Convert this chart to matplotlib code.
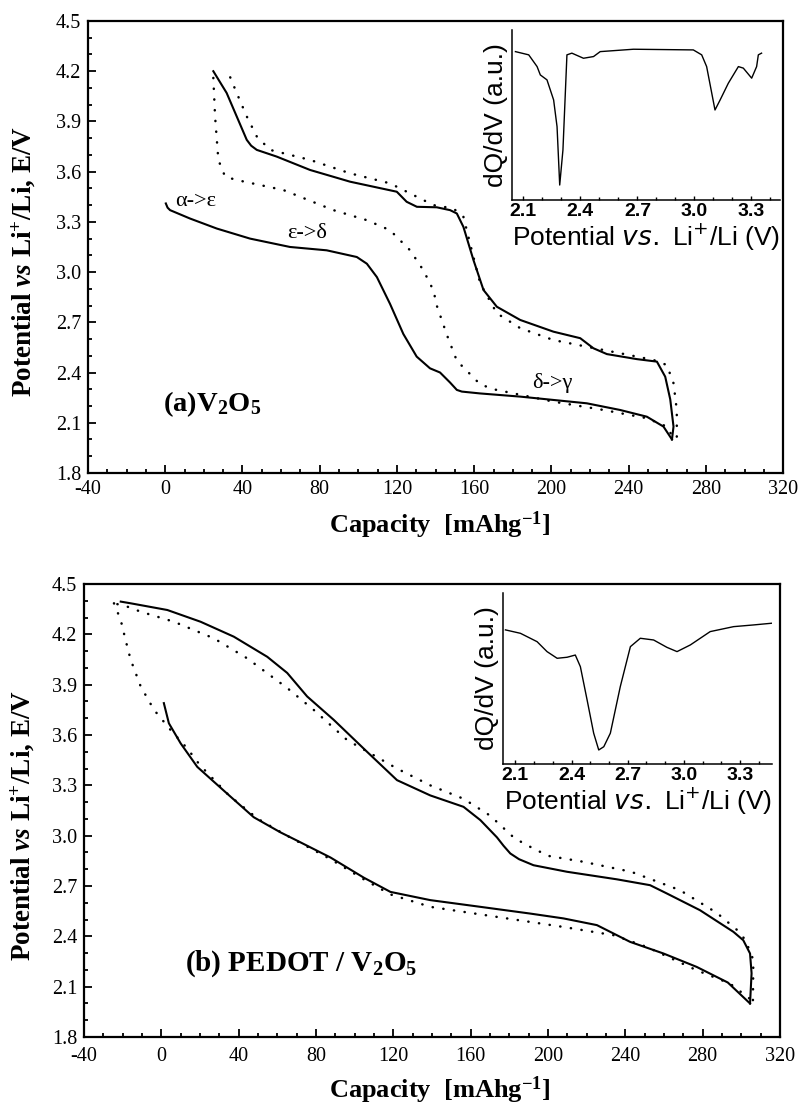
import matplotlib.pyplot as plt
from matplotlib.ticker import MultipleLocator

plt.rcParams['font.family'] = ['Liberation Serif', 'DejaVu Serif']
plt.rcParams['mathtext.fontset'] = 'custom'
plt.rcParams['mathtext.rm'] = 'Liberation Serif:bold'
plt.rcParams['mathtext.it'] = 'Liberation Serif:italic:bold'
plt.rcParams['mathtext.bf'] = 'Liberation Serif:bold'
plt.rcParams['axes.unicode_minus'] = False

# ---- (a) V2O5 : galvanostatic curves ----
a_dis_cap = [0.3, 1.2, 2.5, 12.8, 26.7, 43.9, 64.6, 83.6, 99.2, 104.4, 109.6, 116.4, 123.3,
             130.2, 137.1, 142.3, 147.5, 151, 153.6, 163, 183.8, 218.3, 235.6, 249.4, 258,
             262.4]
a_dis_v = [3.41, 3.385, 3.37, 3.32, 3.26, 3.20, 3.15, 3.13, 3.09, 3.05, 2.97, 2.81, 2.63,
           2.495, 2.425, 2.40, 2.34, 2.296, 2.286, 2.275, 2.256, 2.216, 2.176, 2.136, 2.077,
           2.0]
a_chg_cap = [262.4, 263.2, 261.5, 258.9, 254.6, 244.2, 228.7, 221.7, 214.9, 201, 183.8, 171.7,
             164.8, 159.6, 154.4, 151, 147.5, 140.6, 130.3, 125, 119.9, 95.7, 75, 57.7, 47.4,
             44.5, 42.2, 37, 31.8, 24.9]
a_chg_v = [2.0, 2.077, 2.24, 2.375, 2.465, 2.48, 2.51, 2.545, 2.605, 2.644, 2.714, 2.793,
           2.893, 3.072, 3.27, 3.35, 3.37, 3.387, 3.39, 3.42, 3.48, 3.54, 3.61, 3.69, 3.73,
           3.755, 3.79, 3.93, 4.07, 4.20]
a_dis_dot_cap = [24.9, 25.8, 27.5, 31, 37, 61.2, 87.1, 104.4, 116.4, 126.8, 133.7, 138.9,
                 140.6, 146, 151, 157.9, 163, 170, 201, 227, 249.4, 259.7, 263.2]
a_dis_dot_v = [4.16, 3.93, 3.67, 3.57, 3.55, 3.49, 3.37, 3.31, 3.25, 3.13, 3.01, 2.89,
               2.80, 2.62, 2.47, 2.39, 2.33, 2.30, 2.226, 2.176, 2.127, 2.077, 2.007]
a_chg_dot_cap = [264.9, 264.9, 263.2, 259.7, 252.8, 235.6, 218.3, 201, 183.8, 171.7, 163.1,
                 159.6, 154.4, 149.2, 138.9, 116.4, 95.7, 75, 54.3, 47.4, 42.2, 37, 32.7]
a_chg_dot_v = [2.017, 2.176, 2.336, 2.445, 2.475, 2.515, 2.554, 2.594, 2.665, 2.754, 2.933,
               3.09, 3.33, 3.38, 3.40, 3.53, 3.59, 3.67, 3.73, 3.81, 3.93, 4.07, 4.19]

# ---- (b) PEDOT / V2O5 ----
b_dis_cap = [1.3, 3.9, 10, 18.6, 34.1, 47.8, 61.6, 70.3, 87.5, 104.7, 118.5, 139.1, 165,
             190.7, 208, 225.3, 242.5, 259.7, 276.9, 293, 304.5]
b_dis_v = [3.79, 3.67, 3.55, 3.41, 3.25, 3.11, 3.02, 2.97, 2.87, 2.75, 2.665, 2.616, 2.576,
           2.536, 2.507, 2.467, 2.367, 2.298, 2.218, 2.125, 2.0]
b_chg_cap = [304.5, 305.3, 304.5, 301, 295.9, 278.6, 261.4, 252.8, 235.6, 209.8, 192.5,
             185, 180.5, 177, 173.6, 165, 156.3, 139.1, 121.9, 106.4, 89.2, 75.4, 65.1, 54.8,
             37.5, 20.3, 3.1, -15.9, -21]
b_chg_v = [2.0, 2.18, 2.298, 2.377, 2.427, 2.556, 2.656, 2.705, 2.74, 2.785, 2.824,
           2.86, 2.894, 2.94, 2.99, 3.093, 3.172, 3.24, 3.331, 3.50, 3.69, 3.83, 3.97, 4.066,
           4.186, 4.275, 4.345, 4.385, 4.395]
b_dis_dot_cap = [-24.5, -21, -18.5, -15.9, -10.7, -3.8, 4.8, 13.4, 20, 35, 50, 65, 87.5,
                 104.7, 118.5, 139.1, 173.6, 208, 233.9, 251.1, 276.9, 294.1, 305.3]
b_dis_dot_v = [4.385, 4.285, 4.166, 4.05, 3.89, 3.75, 3.63, 3.52, 3.42, 3.24, 3.10, 3.00,
               2.86, 2.74, 2.65, 2.576, 2.516, 2.456, 2.407, 2.337, 2.198, 2.119, 2.02]
b_chg_dot_cap = [306, 306.2, 302, 297.6, 287.3, 268.3, 243, 218, 200, 188, 182.2, 170,
                 156.3, 139.1, 121.9, 96.1, 78.8, 65.1, 44.4, 27.2, 6.5, -10.7, -17.6, -24.5]
b_chg_dot_v = [2.02, 2.26, 2.38, 2.44, 2.54, 2.675, 2.785, 2.845, 2.88, 2.95, 2.99, 3.12,
               3.22, 3.30, 3.40, 3.57, 3.75, 3.88, 4.057, 4.176, 4.275, 4.335, 4.365, 4.385]

# ---- insets: dQ/dV ----
ins_a_v = [2.058, 2.128, 2.172, 2.189, 2.224, 2.259, 2.277, 2.291, 2.308, 2.329, 2.355,
           2.416, 2.469, 2.504, 2.679, 2.994, 3.038, 3.064, 3.108, 3.135, 3.178, 3.231,
           3.257, 3.301, 3.327, 3.336, 3.353]
ins_a_q = [0.872, 0.853, 0.784, 0.735, 0.706, 0.588, 0.431, 0.088, 0.294, 0.853, 0.863,
           0.833, 0.843, 0.872, 0.886, 0.882, 0.853, 0.784, 0.529, 0.588, 0.686, 0.784,
           0.775, 0.716, 0.784, 0.853, 0.863]
ins_b_v = [2.047, 2.127, 2.216, 2.269, 2.323, 2.376, 2.420, 2.447, 2.483, 2.518, 2.545,
           2.572, 2.607, 2.660, 2.714, 2.767, 2.838, 2.909, 2.963, 3.034, 3.140, 3.265,
           3.372, 3.469]
ins_b_q = [0.784, 0.764, 0.715, 0.657, 0.618, 0.624, 0.637, 0.569, 0.374, 0.180, 0.082,
           0.101, 0.180, 0.452, 0.686, 0.735, 0.725, 0.682, 0.657, 0.696, 0.774, 0.803,
           0.813, 0.823]

x_ticks = [-40, 0, 40, 80, 120, 160, 200, 240, 280, 320]
y_ticks = [1.8, 2.1, 2.4, 2.7, 3.0, 3.3, 3.6, 3.9, 4.2, 4.5]
ins_ticks = [2.1, 2.4, 2.7, 3.0, 3.3]

fig = plt.figure(figsize=(8, 11.05), dpi=100)


def style_main(ax, xpad):
    ax.set_xlim(-40, 320)
    ax.set_ylim(1.8, 4.5)
    ax.set_xticks(x_ticks)
    ax.set_xticklabels([str(t) for t in x_ticks])
    ax.set_yticks(y_ticks)
    ax.set_yticklabels(['%.1f' % t for t in y_ticks])
    ax.xaxis.set_minor_locator(MultipleLocator(10))
    ax.yaxis.set_minor_locator(MultipleLocator(0.1))
    ax.tick_params(which='both', direction='in', top=False, right=False, width=1.3,
                   labelsize=14.5)
    ax.tick_params(which='major', length=6)
    ax.tick_params(which='minor', length=3)
    ax.tick_params(axis='x', pad=xpad)
    ax.tick_params(axis='y', pad=5)
    for s in ax.spines.values():
        s.set_linewidth(1.6)


def style_inset(ax, xlim):
    ax.set_facecolor('none')
    ax.set_xlim(*xlim)
    ax.set_ylim(0, 1)
    ax.set_xticks(ins_ticks)
    ax.set_xticklabels(['%.1f' % t for t in ins_ticks], fontweight='bold',
                       family=['Liberation Sans', 'DejaVu Sans'])
    ax.xaxis.set_minor_locator(MultipleLocator(0.1))
    ax.set_yticks([])
    ax.spines['top'].set_visible(False)
    ax.spines['right'].set_visible(False)
    for s in ['left', 'bottom']:
        ax.spines[s].set_linewidth(1.1)
    ax.tick_params(which='both', direction='in', labelsize=14, pad=2, width=1)
    ax.tick_params(which='major', length=3)
    ax.tick_params(which='minor', length=2)
    ax.set_xlabel('Potential $vs.$ Li$^{+}$/Li (V)', fontsize=19, labelpad=1,
                  family=['Liberation Sans', 'DejaVu Sans'], math_fontfamily='dejavusans')
    ax.set_ylabel('dQ/dV (a.u.)', fontsize=19, labelpad=3,
                  family=['Liberation Sans', 'DejaVu Sans'])


dots = dict(color='black', linestyle=(0, (0.1, 4.2)), linewidth=1.8, dash_capstyle='round')
solid = dict(color='black', linewidth=1.5)

# panel (a)
ax_a = fig.add_axes([0.11, 0.572, 0.869, 0.409])
ax_a.plot(a_dis_cap, a_dis_v, **solid)
ax_a.plot(a_chg_cap, a_chg_v, **solid)
ax_a.plot(a_dis_dot_cap, a_dis_dot_v, **dots)
ax_a.plot(a_chg_dot_cap, a_chg_dot_v, **dots)
style_main(ax_a, 5)
ax_a.text(5, 3.42, 'α->ε', fontsize=16, va='center')
ax_a.text(63, 3.23, 'ε->δ', fontsize=16, va='center')
ax_a.text(190, 2.34, 'δ->γ', fontsize=16, va='center')
ax_a.text(-1, 2.21, '(a)V$_2$O$_5$', fontsize=20.5, fontweight='bold', va='center')

ins_a = fig.add_axes([0.64, 0.819, 0.335, 0.154])
ins_a.plot(ins_a_v, ins_a_q, color='black', linewidth=1.0)
style_inset(ins_a, (2.04, 3.45))

# panel (b)
ax_b = fig.add_axes([0.105, 0.0615, 0.87, 0.41])
ax_b.plot(b_dis_cap, b_dis_v, **solid)
ax_b.plot(b_chg_cap, b_chg_v, **solid)
ax_b.plot(b_dis_dot_cap, b_dis_dot_v, **dots)
ax_b.plot(b_chg_dot_cap, b_chg_dot_v, **dots)
style_main(ax_b, 7)
ax_b.text(12, 2.24, '(b) PEDOT / V$_2$O$_5$', fontsize=21, fontweight='bold', va='center')

ins_b = fig.add_axes([0.629, 0.3086, 0.336, 0.1548])
ins_b.plot(ins_b_v, ins_b_q, color='black', linewidth=1.0)
style_inset(ins_b, (2.035, 3.47))

# axis titles
ylab = 'Potential $vs$ Li$^{+}$/Li, E/V'
xlab = 'Capacity  [mAhg$^{-1}$]'
fig.text(0.029, 0.7638, ylab, rotation=90, fontsize=19.5, fontweight='bold',
         ha='center', va='center')
fig.text(0.028, 0.2534, ylab, rotation=90, fontsize=19.5, fontweight='bold',
         ha='center', va='center')
fig.text(0.55, 0.525, xlab, fontsize=19, fontweight='bold', ha='center', va='center')
fig.text(0.55, 0.0136, xlab, fontsize=19, fontweight='bold', ha='center', va='center')

fig.savefig('out.png', dpi=100)
